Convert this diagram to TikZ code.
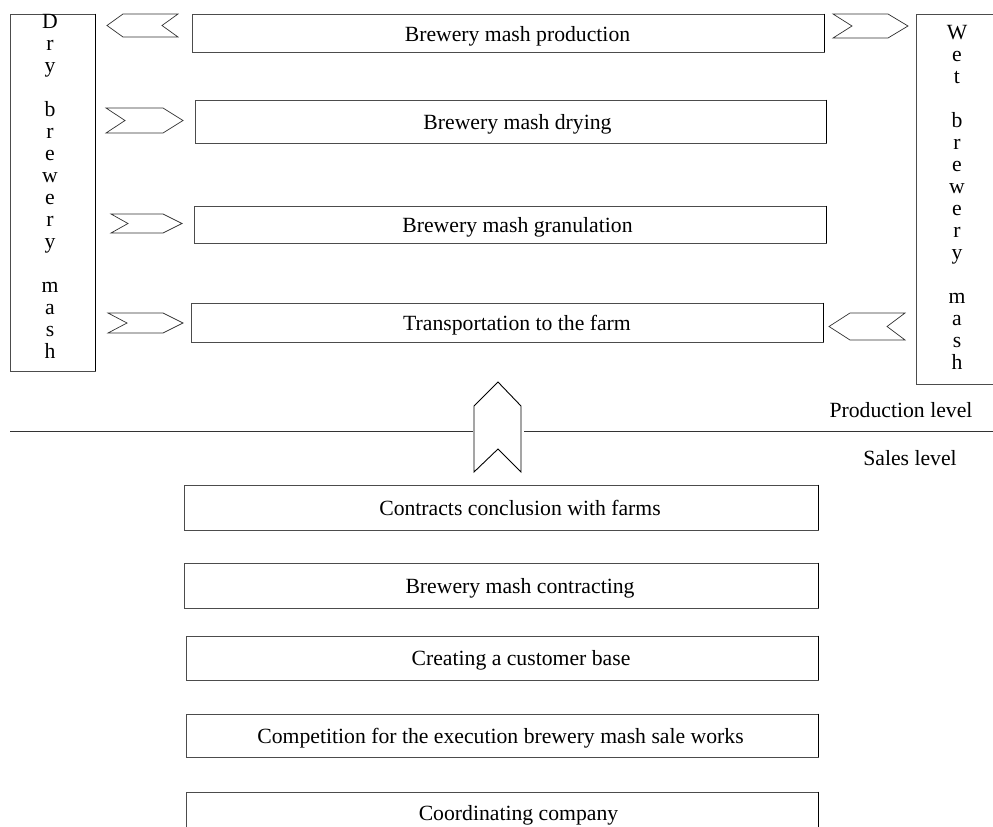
\documentclass[tikz,border=0pt]{standalone}
\usepackage{fontspec}
\setmainfont{Liberation Serif}
\begin{document}
\begin{tikzpicture}[x=1pt,y=-1pt,
  box/.style={draw=black!70, line width=0.7pt, inner sep=0pt},
  edge/.style={draw=black, line width=1.3pt},
  txt/.style={font=\fontsize{21.7}{22}\selectfont, inner sep=0pt, anchor=base},
  vtxt/.style={font=\fontsize{21.7}{22}\selectfont, align=center, inner sep=0pt, anchor=base},
  chev/.style={draw=black!80, line width=0.7pt, line join=miter, fill=white},
  level/.style={draw=black!80, line width=0.8pt}
]
\useasboundingbox (0,0) rectangle (993,827);

% side boxes
\node[box, minimum width=85pt, minimum height=357pt] (dry) at (52.5,192.5) {};
\node[box, minimum width=84pt, minimum height=370pt] (wet) at (958,199) {};
\node[vtxt] (drytxt) at (50,358) {D\\r\\y\\[22pt]b\\r\\e\\w\\e\\r\\y\\[22pt]m\\a\\s\\h};
\node[vtxt] (wettxt) at (957,369) {W\\e\\t\\[22pt]b\\r\\e\\w\\e\\r\\y\\[22pt]m\\a\\s\\h};

% production boxes
\node[box, minimum width=632pt, minimum height=38pt] (b1) at (508,33) {};
\node[box, minimum width=631pt, minimum height=43pt] (b2) at (510.5,121.5) {};
\node[box, minimum width=632pt, minimum height=37pt] (b3) at (510,224.5) {};
\node[box, minimum width=632pt, minimum height=39pt] (b4) at (507,322.5) {};
\node[txt] (t1) at (517.5,41) {Brewery mash production};
\node[txt] (t2) at (517.5,129) {Brewery mash drying};
\node[txt] (t3) at (517.5,232) {Brewery mash granulation};
\node[txt] (t4) at (517,330) {Transportation to the farm};

% sales boxes
\node[box, minimum width=634pt, minimum height=45pt] (s1) at (501,507.5) {};
\node[box, minimum width=634pt, minimum height=45pt] (s2) at (501,585.5) {};
\node[box, minimum width=632pt, minimum height=44pt] (s3) at (502,658) {};
\node[box, minimum width=632pt, minimum height=43pt] (s4) at (502,735.5) {};
\node[box, minimum width=632pt, minimum height=44pt] (s5) at (502,814) {};
\node[txt] (u1) at (520,515) {Contracts conclusion with farms};
\node[txt] (u2) at (520,593) {Brewery mash contracting};
\node[txt] (u3) at (521,665.5) {Creating a customer base};
\node[txt] (u4) at (500.5,743) {Competition for the execution brewery mash sale works};
\node[txt] (u5) at (518.5,820.5) {Coordinating company};

\foreach \n in {b1,b2,b3,b4,s1,s2,s3,s4,s5,dry}
  \draw[edge] (\n.north east) -- (\n.south east);

% chevrons
\draw[chev] (107,25.5) -- (123,14) -- (178,14) -- (162,25.5) -- (178,37) -- (123,37) -- cycle;
\draw[chev] (833,14) -- (888,14) -- (908,26) -- (888,38) -- (833,38) -- (852,26) -- cycle;
\draw[chev] (106,108) -- (163,108) -- (183,120.5) -- (163,133) -- (106,133) -- (125,120.5) -- cycle;
\draw[chev] (111,214) -- (163,214) -- (182,223.5) -- (163,233) -- (111,233) -- (128,223.5) -- cycle;
\draw[chev] (108,313) -- (163,313) -- (183,323) -- (163,333) -- (108,333) -- (127,323) -- cycle;
\draw[chev] (829,326.5) -- (850,313) -- (905,313) -- (887,326.5) -- (905,340) -- (850,340) -- cycle;

% level line and up arrow
\coordinate (la) at (10,431);
\coordinate (lb) at (472.5,431);
\coordinate (lc) at (524,431);
\coordinate (ld) at (993,431);
\draw[level] (la) -- (lb);
\draw[level] (lc) -- (ld);
\draw[chev, draw=black, line width=0.9pt] (498,382) -- (521,406) -- (521,472) -- (498,449) -- (474,472) -- (474,406) -- cycle;

\node[txt] (prod) at (901,417.5) {Production level};
\node[txt] (sales) at (910,465.5) {Sales level};
\end{tikzpicture}
\end{document}
